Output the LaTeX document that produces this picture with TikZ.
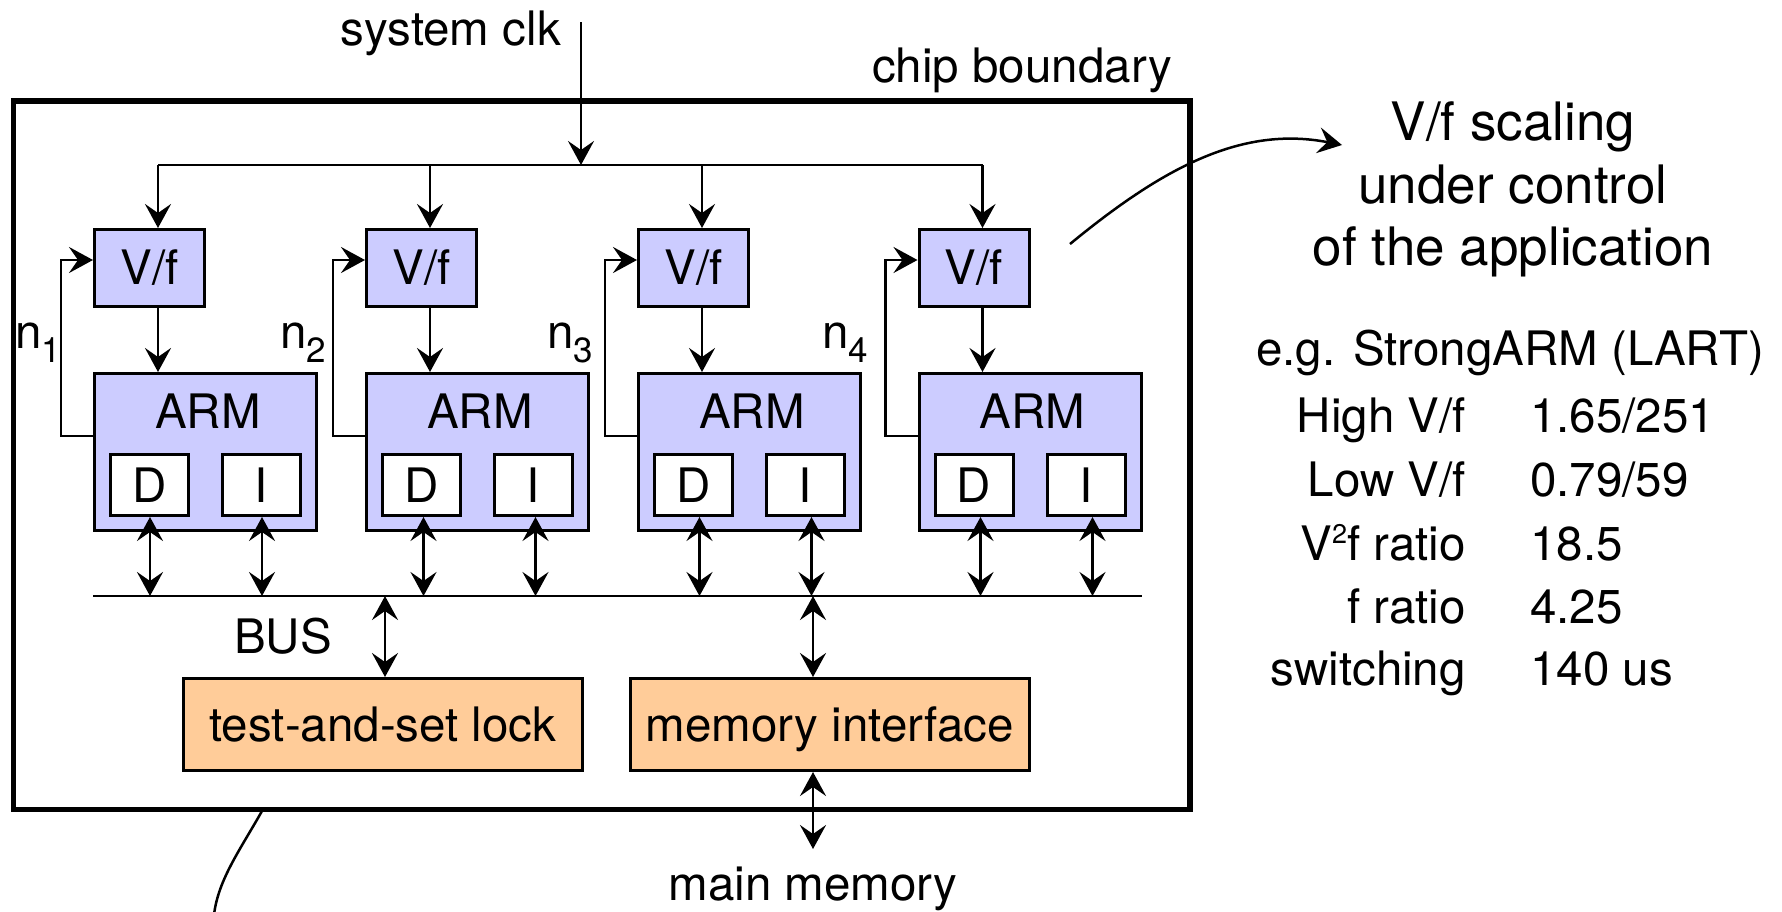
\documentclass[tikz,border=0pt]{standalone}
\usepackage{fontspec}
\setmainfont{TeX Gyre Heros}
\usetikzlibrary{arrows.meta}
\definecolor{lav}{HTML}{CCCCFF}
\definecolor{peach}{HTML}{FFCC99}
\newcommand\supnum[1]{\raisebox{17pt}{\fontsize{27}{27}\selectfont #1}}
\newcommand\subnum[1]{\raisebox{-14pt}{\fontsize{35}{35}\selectfont #1}}
\begin{document}
\begin{tikzpicture}[x=1pt,y=-1pt,
  >={Stealth[length=24pt,width=26pt,inset=9pt]},
  wire/.style={line width=2.5pt},
  txt/.style={inner sep=0pt, font=\fontsize{47.5}{57}\selectfont},
  bigtxt/.style={inner sep=0pt, font=\fontsize{53}{64}\selectfont},
  blk/.style={draw, line width=3pt, inner sep=0pt, anchor=north west,
    font=\fontsize{47.5}{57}\selectfont},
  vfbox/.style={blk, fill=lav, minimum width=110pt, minimum height=77pt},
  armbox/.style={blk, fill=lav, minimum width=222pt, minimum height=157pt},
  cachebox/.style={blk, fill=white, minimum width=78pt, minimum height=61pt},
  unitbox/.style={blk, fill=peach, minimum width=399pt, minimum height=92pt,
    text height=34pt, text depth=0pt},
  chipbox/.style={draw, line width=5.5pt, inner sep=0pt, outer sep=0pt,
    anchor=north west, minimum width=1176.5pt, minimum height=708.5pt},
]
\useasboundingbox (0,0) rectangle (1782,911);

% chip outline and its label
\node[chipbox] (chip) at (13.5,101) {};
\node[txt, anchor=base] (chiplbl) at (1022,82) {chip boundary};

% system clock input
\coordinate (clkin) at (581,22);
\node[txt, anchor=base east] (clklbl) at (561,45) {system clk};

% bus end points
\coordinate (busL) at (93,596);
\coordinate (busR) at (1141.5,596);

% four processor tiles
\foreach \i/\x/\s in {1/93/0.5,2/365/2,3/637/6,4/917.5/6.5}{
  \node[vfbox] (vf\i) at (\x,228) {V/f};
  \node[armbox] (arm\i) at (\x,372) {};
  \node[txt, anchor=base] (armt\i) at (\x+115,428) {ARM};
  \node[cachebox] (dc\i) at (\x+16,453) {D};
  \node[cachebox] (ic\i) at (\x+128,453) {I};
  \coordinate (tap\i) at (\x+65,165);
  \coordinate (fb\i) at (\x-32,436);
  \coordinate (dp\i) at ([xshift=\s pt]dc\i.south);
  \coordinate (ip\i) at ([xshift=\s pt]ic\i.south);
  \draw[wire,->] (tap\i) -- (tap\i |- vf\i.north);
  \draw[wire,->] (tap\i |- vf\i.south) -- (tap\i |- arm\i.north);
  \draw[wire,->] (arm\i.west |- fb\i) -- (fb\i) |- ([yshift=8pt]vf\i.west);
  \draw[wire,<->] (dp\i) -- (dp\i |- busL);
  \draw[wire,<->] (ip\i) -- (ip\i |- busL);
}

% clock distribution line
\draw[wire] (tap1) -- (tap4);
\draw[wire,->] (clkin) -- (clkin |- tap1);

% node labels
\node[txt, anchor=base west] (n1) at (15,348) {n\subnum{1}};
\node[txt, anchor=base west] (n2) at (280,348) {n\subnum{2}};
\node[txt, anchor=base west] (n3) at (547,348) {n\subnum{3}};
\node[txt, anchor=base west] (n4) at (822,348) {n\subnum{4}};

% shared bus
\draw[wire] (busL) -- (busR);
\node[txt, anchor=base west] (buslbl) at (234,653) {BUS};

% shared units on the bus
\node[unitbox] (tas) at (182,677) {test-and-set lock};
\node[unitbox] (mem) at (629,677) {memory interface};
\coordinate (tasp) at (385,596);
\coordinate (memp) at (813,596);
\draw[wire,<->] (tasp) -- (tasp |- tas.north);
\draw[wire,<->] (memp) -- (memp |- mem.north);

% off-chip memory
\node[txt, anchor=base] (mainmem) at (813,900) {main memory};
\coordinate (mmtip) at (813,849);
\draw[wire,<->] (memp |- mem.south) -- (mmtip);

% pointer from the V/f units to the note
\coordinate (sc0) at (1070,244);
\coordinate (sc1) at (1342,145);
\draw[wire,->] (sc0) .. controls (1160,170) and (1240,125) .. (sc1);

% pointer leaving the chip at the bottom
\coordinate (lc0) at (262,811);
\coordinate (lc1) at (214,915);
\draw[wire] (lc0) .. controls (240,850) and (218,880) .. (lc1);

% note on the right
\node[bigtxt, anchor=base] (note1) at (1513,140) {V/f scaling};
\node[bigtxt, anchor=base] (note2) at (1513,203) {under control};
\node[bigtxt, anchor=base] (note3) at (1513,265) {of the application};
\node[txt, anchor=base west] (eg) at (1256,365) {e.g. StrongARM (LART)};

% parameter table
\foreach \k/\lab/\val/\y in {a/{High V/f}/{1.65/251}/432, b/{Low V/f}/{0.79/59}/496,
    c/{V\supnum{2}f ratio}/{18.5}/560, d/{f ratio}/{4.25}/623, e/{switching}/{140 us}/685}{
  \node[txt, anchor=base east] (lab\k) at (1466,\y) {\lab};
  \node[txt, anchor=base west] (val\k) at (1530,\y) {\val};
}
\end{tikzpicture}
\end{document}
